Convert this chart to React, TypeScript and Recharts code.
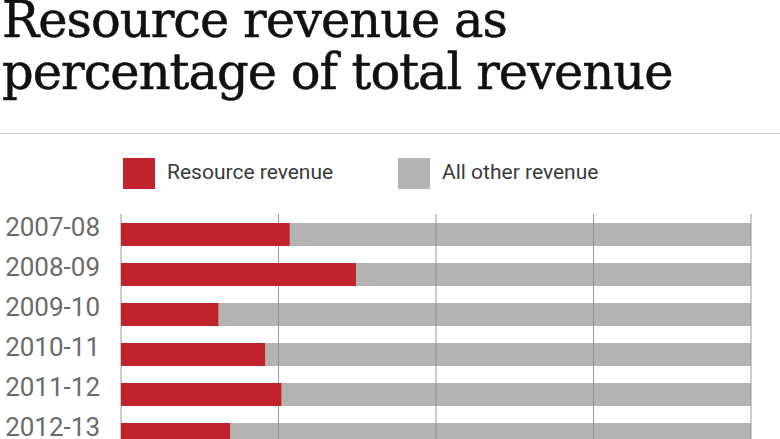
import { Bar, BarChart, CartesianGrid, XAxis, YAxis } from "recharts";

// share of total revenue, in percent
const years = ["2007-08", "2008-09", "2009-10", "2010-11", "2011-12", "2012-13"];
const resourceShare = [26.8, 37.3, 15.5, 22.9, 25.5, 17.3];
const otherShare = resourceShare.map((v) => 100 - v);
const xTicks = [0, 25, 50, 75, 100];

const seriesNames = ["Resource revenue", "All other revenue"];
const seriesColors = ["#c1232d", "#8a8a8a"];
const legendLeft = [123, 398];

const data = years.map((year, i) => ({
  year,
  resource: resourceShare[i],
  other: otherShare[i],
}));

function LegendBox() {
  return (
    <div style={{ position: "absolute", left: 0, top: 158, fontFamily: "Roboto", fontSize: 21, color: "#3a3a3a" }}>
      {seriesNames.map((name, i) => (
        <div
          key={name}
          style={{ position: "absolute", left: legendLeft[i], top: 0, display: "flex", alignItems: "center", whiteSpace: "nowrap" }}
        >
          <span
            style={{
              display: "inline-block",
              width: 32,
              height: 31,
              background: seriesColors[i],
              opacity: i === 1 ? 0.65 : 1,
              marginRight: 12,
            }}
          />
          <span style={{ position: "relative", top: -2 }}>{name}</span>
        </div>
      ))}
    </div>
  );
}

export default function App() {
  return (
    <div style={{ position: "absolute", left: 0, top: 0, width: 780, height: 439, overflow: "hidden", background: "#fff" }}>
      <div
        style={{
          position: "absolute",
          left: 2,
          top: -6,
          fontFamily: "DejaVu Serif",
          fontSize: 49.5,
          lineHeight: "52px",
          color: "#111",
          letterSpacing: -1,
          whiteSpace: "nowrap",
          WebkitTextStroke: "0.5px #111",
        }}
      >
        Resource revenue as
        <br />
        percentage of total revenue
      </div>
      <div style={{ position: "absolute", left: 0, top: 133, width: 780, height: 1, background: "#c8c8c8" }} />
      <LegendBox />
      <div style={{ position: "absolute", left: 0, top: 134 }}>
        <BarChart
          width={780}
          height={340}
          data={data}
          layout="vertical"
          barSize={23}
          margin={{ top: 80, right: 29, bottom: 20, left: 0 }}
        >
          <CartesianGrid horizontal={false} stroke="#9a9a9a" />
          <XAxis type="number" domain={[0, 100]} ticks={xTicks} hide />
          <YAxis
            type="category"
            dataKey="year"
            width={121}
            interval={0}
            axisLine={false}
            tickLine={false}
            tickSize={0}
            tickMargin={21}
            tick={{ fill: "#6b6b6b", fontFamily: "Roboto", fontSize: 26, dy: -7 }}
          />
          <Bar dataKey="resource" name={seriesNames[0]} stackId="a" fill={seriesColors[0]} isAnimationActive={false} />
          <Bar
            dataKey="other"
            name={seriesNames[1]}
            stackId="a"
            fill={seriesColors[1]}
            fillOpacity={0.65}
            isAnimationActive={false}
          />
        </BarChart>
      </div>
    </div>
  );
}
